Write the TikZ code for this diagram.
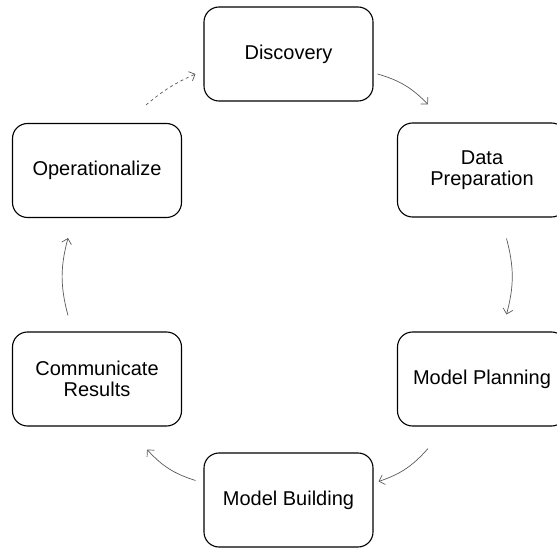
\documentclass[tikz,border=0pt]{standalone}
\usepackage{fontspec}
\setmainfont{Liberation Sans}
\usetikzlibrary{arrows.meta,calc}

\tikzset{
  stage/.style={draw,rounded corners=15pt,line width=1.1pt,minimum width=169pt,
    minimum height=94pt,align=center,font=\fontsize{20}{21.5}\selectfont},
  flow/.style={draw=black!65,line width=0.7pt,-{Straight Barb[length=5pt,width=10pt]}}
}

\begin{document}
\begin{tikzpicture}[x=1pt,y=-1pt]
\useasboundingbox (0,0) rectangle (557,548);

\def\stages{1/288.5/54/{Discovery},2/482/170/{Data\\Preparation},3/482/379/{Model Planning},4/288.5/500/{Model Building},5/97/379/{Communicate\\Results},6/97/170.5/{Operationalize}}
\foreach \i/\x/\y/\name in \stages
  \node[stage] (s\i) at (\x,\y) {\name};

% cycle arrows
\draw[flow] ($(s1.east)+(4,20)$) to[bend left=15] ($(s2.north west)+(31,-18)$);
\draw[flow] ($(s2.south)+(24.5,21)$) to[bend left=15] ($(s3.north)+(24.5,-17)$);
\draw[flow] ($(s3.south west)+(31,22)$) to[bend left=15] ($(s4.east)+(5,-18.5)$);
\draw[flow] ($(s4.west)+(-8,-19.5)$) to[bend left=15] ($(s5.south east)+(-35,23)$);
\draw[flow] ($(s5.north)+(-29,-16)$) to[bend left=15] ($(s6.south)+(-29,20)$);
\draw[flow,dashed] ($(s6.north east)+(-36,-18)$) to[bend left=8] ($(s1.west)+(-8,20)$);

\end{tikzpicture}
\end{document}
